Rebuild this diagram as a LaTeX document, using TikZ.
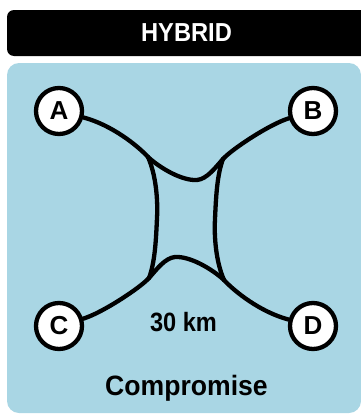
\documentclass[tikz,border=0pt]{standalone}
\usepackage{fontspec}
\setmainfont{Liberation Sans}
\usepackage{graphicx}
\definecolor{panelblue}{RGB}{169,214,228}
\newcommand{\narrow}[2][0.9]{\scalebox{#1}[1]{#2}}

\begin{document}
\begin{tikzpicture}[x=1pt,y=-1pt,line cap=round,line join=round,
  city/.style={circle,draw,line width=4.3pt,fill=white,minimum size=46pt,
    inner sep=0pt,font=\fontsize{26}{26}\selectfont\bfseries},
  road/.style={line width=4.3pt}]
  \clip (0,0) rectangle (361,415);
  \fill[rounded corners=7pt] (7,10) rectangle (375,56);
  \fill[panelblue,rounded corners=12pt] (7,63) rectangle (361,413);
  \node[white,font=\fontsize{26}{26}\selectfont\bfseries] (title)
    at (186.5,33) {\narrow[0.91]{HYBRID}};
  \node[city] (A) at (59,111) {A};
  \node[city] (B) at (313,111) {B};
  \node[city] (C) at (59,326) {C};
  \node[city] (D) at (313,326) {D};
  \coordinate (tl) at (148,157);
  \coordinate (tr) at (223,159);
  \coordinate (br) at (224,280);
  \coordinate (bl) at (149,278);
  \draw[road] (A) .. controls (112,125) and (138,146) .. (tl);
  \draw[road] (tr) .. controls (232,149) and (270,124) .. (B);
  \draw[road] (D) .. controls (260,312) and (234,291) .. (br);
  \draw[road] (bl) .. controls (140,288) and (102,313) .. (C);
  \draw[road] (tl) .. controls (160,168) and (182,181) .. (197,180)
    .. controls (207,179) and (215,168) .. (tr);
  \draw[road] (br) .. controls (212,269) and (190,256) .. (175,257)
    .. controls (165,258) and (157,269) .. (bl);
  \draw[road] (tl) .. controls (156,175) and (158,200) .. (157,218)
    .. controls (156,240) and (155,262) .. (bl);
  \draw[road] (tr) .. controls (217,175) and (216,197) .. (215,219)
    .. controls (214,237) and (216,262) .. (br);
  \node[font=\fontsize{26.5}{26.5}\selectfont\bfseries] (dist)
    at (183.5,322) {\narrow[0.89]{30 km}};
  \node[font=\fontsize{28}{28}\selectfont\bfseries,anchor=base] (label)
    at (186.5,395) {\narrow[0.95]{Compromise}};
\end{tikzpicture}
\end{document}
